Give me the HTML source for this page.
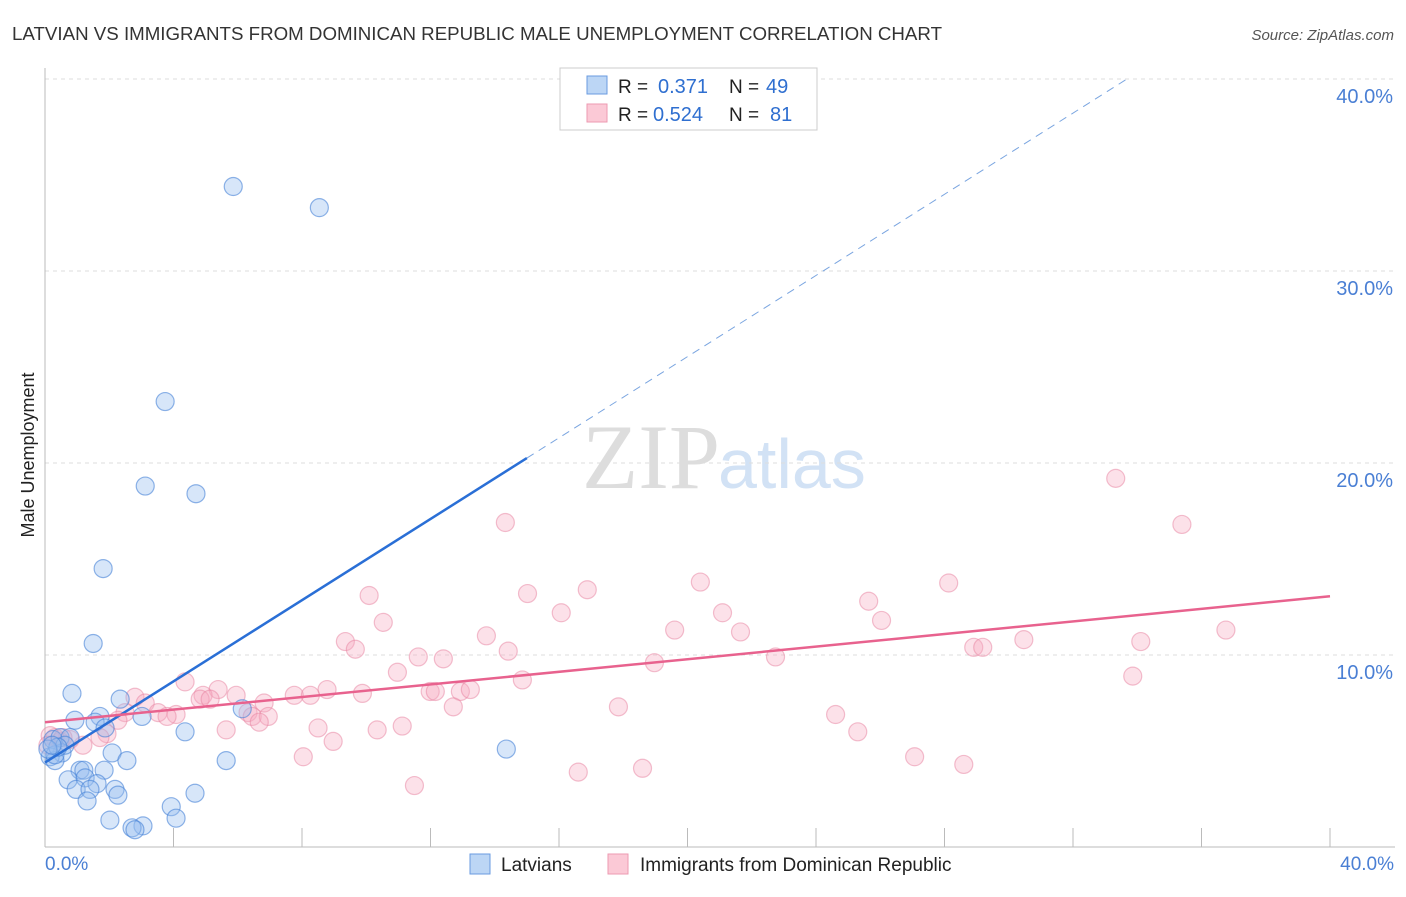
<!DOCTYPE html>
<html><head><meta charset="utf-8"><style>
body{margin:0;background:#fff;font-family:"Liberation Sans",sans-serif}
</style></head><body>
<svg width="1406" height="892" xmlns="http://www.w3.org/2000/svg">
<text x="12" y="40" font-size="18" fill="#333" textLength="930" lengthAdjust="spacingAndGlyphs">LATVIAN VS IMMIGRANTS FROM DOMINICAN REPUBLIC MALE UNEMPLOYMENT CORRELATION CHART</text>
<text x="1394" y="40" font-size="15" fill="#555" font-style="italic" text-anchor="end">Source: ZipAtlas.com</text>
<text x="720" y="488" font-size="92" fill="#ddd" text-anchor="end" font-family="Liberation Serif">ZIP</text>
<text x="718" y="488" font-size="70" fill="#d2e2f5">atlas</text>
<g id="grid"></g>
<line x1="45" y1="68" x2="45" y2="847" stroke="#bbb"/>
<line x1="45" y1="847" x2="1395" y2="847" stroke="#bbb"/>
<text x="34" y="455" font-size="18" fill="#222" text-anchor="middle" transform="rotate(-90 34 455)">Male Unemployment</text>
<text x="45" y="870" font-size="19" fill="#4a7fd4">0.0%</text>
<text x="1394" y="870" font-size="19" fill="#4a7fd4" text-anchor="end">40.0%</text>
<g id="pts"></g>
<g id="lines"></g>
<g>
<rect x="560" y="68" width="257" height="62" fill="#fff" stroke="#ccc"/>
<rect x="587" y="76" width="20" height="18" fill="#bcd6f5" stroke="#6a9be0"/>
<text x="618" y="93" font-size="19" fill="#222">R = </text><text x="658" y="93" font-size="20" fill="#2f6fd0">0.371</text>
<text x="729" y="93" font-size="19" fill="#222">N = </text><text x="766" y="93" font-size="20" fill="#2f6fd0">49</text>
<rect x="587" y="104" width="20" height="18" fill="#fbc9d6" stroke="#ec9ab1"/>
<text x="618" y="121" font-size="19" fill="#222">R = </text><text x="653" y="121" font-size="20" fill="#2f6fd0">0.524</text>
<text x="729" y="121" font-size="19" fill="#222">N = </text><text x="770" y="121" font-size="20" fill="#2f6fd0">81</text>
</g>
<g>
<rect x="470" y="854" width="20" height="20" fill="#bcd6f5" stroke="#6a9be0"/>
<text x="501" y="871" font-size="19" fill="#222">Latvians</text></g>
<g>
<rect x="608" y="854" width="20" height="20" fill="#fbc9d6" stroke="#ec9ab1"/>
<text x="640" y="871" font-size="19" fill="#222">Immigrants from Dominican Republic</text></g>
</svg>
<script>
const yTicks=[10,20,30,40];
const xTicks=[0,4,8,12,16,20,24,28,32,36,40];
const blueX=[5.86,8.54,3.74,3.12,4.70,1.81,1.50,0.84,2.34,3.02,0.93,1.71,1.56,1.87,4.36,6.14,0.25,0.47,0.78,2.09,0.53,0.16,0.31,2.55,5.64,14.36,1.84,1.09,1.21,0.72,1.25,1.62,2.18,0.97,1.40,2.27,4.67,1.31,3.93,2.02,4.08,3.05,2.71,2.80,0.31,0.62,0.40,0.09,0.22];
const blueY=[34.4,33.3,23.2,18.8,18.4,14.5,10.6,8.0,7.7,6.8,6.6,6.8,6.5,6.2,6.0,7.2,5.6,5.7,5.7,4.9,4.9,4.7,4.5,4.5,4.5,5.1,4.0,4.0,4.0,3.5,3.6,3.3,3.0,3.0,3.0,2.7,2.8,2.4,2.1,1.4,1.5,1.1,1.0,0.9,4.8,5.3,5.2,5.1,5.3];
const pinkX=[33.33,35.39,14.33,20.40,28.13,16.88,15.02,10.09,16.07,21.09,25.64,26.04,10.53,19.60,21.65,13.74,36.76,30.47,34.11,9.35,9.66,28.91,29.19,14.42,11.62,12.40,22.74,18.97,10.97,33.86,14.86,4.36,5.39,8.78,9.88,7.76,8.26,5.95,4.92,11.99,12.15,12.93,13.24,4.83,5.14,6.82,2.80,3.12,3.52,4.08,3.80,6.32,6.45,6.95,6.67,5.64,8.50,10.34,11.12,17.85,12.71,24.61,25.30,2.49,2.27,1.93,1.71,1.18,0.78,0.47,8.97,8.04,27.07,28.60,16.60,18.60,11.50,0.31,0.16,0.09,0.56];
const pinkY=[19.2,16.8,16.9,13.8,13.75,13.4,13.2,13.1,12.2,12.2,12.8,11.8,11.7,11.3,11.2,11.0,11.3,10.8,10.7,10.7,10.3,10.4,10.4,10.2,9.9,9.8,9.9,9.6,9.1,8.9,8.7,8.6,8.2,8.2,8.0,7.9,7.9,7.9,7.9,8.1,8.1,8.1,8.2,7.7,7.7,7.5,7.8,7.5,7.0,6.9,6.8,7.0,6.8,6.8,6.5,6.1,6.2,6.1,6.3,7.3,7.3,6.9,6.0,7.0,6.6,5.9,5.7,5.3,5.6,5.5,5.5,4.7,4.7,4.3,3.9,4.1,3.2,5.7,5.8,5.3,5.7];
const blueFit=[4.4,1.057];
const pinkFit=[6.5,0.164];
const NS='http://www.w3.org/2000/svg';
const sx=v=>45+v*32.125, sy=v=>847-v*19.2;
function mk(t,a,p){const e=document.createElementNS(NS,t);for(const k in a)e.setAttribute(k,a[k]);p.appendChild(e);return e;}
const grid=document.getElementById('grid');
yTicks.forEach(v=>{
 const l=mk('line',{x1:45,x2:1395,y1:sy(v),y2:sy(v),stroke:'#ddd','stroke-dasharray':'4,4'},grid);
 
 
 const t=mk('text',{x:1393,y:sy(v)+24,'font-size':20,fill:'#4a7fd4','text-anchor':'end'},grid);
 t.textContent=v.toFixed(1)+'%';
 
 
});
xTicks.forEach(v=>{
 const l=mk('line',{x1:sx(v),x2:sx(v),y1:828,y2:847,stroke:'#bbb'},grid);
 
 
});
const pts=document.getElementById('pts');
pinkX.forEach((x,i)=>{
 const c=mk('circle',{cx:sx(x),cy:sy(pinkY[i]),r:9,fill:'rgba(247,170,192,0.35)',stroke:'rgba(232,130,160,0.5)','stroke-width':1.2},pts);
 
 
});
blueX.forEach((x,i)=>{
 const c=mk('circle',{cx:sx(x),cy:sy(blueY[i]),r:9,fill:'rgba(150,190,240,0.38)',stroke:'rgba(70,130,215,0.6)','stroke-width':1.2},pts);
 
 
});
const lines=document.getElementById('lines');
const bEnd=15, bMax=(40-blueFit[0])/blueFit[1];
let l1=mk('line',{x1:sx(0),y1:sy(blueFit[0]),x2:sx(bEnd),y2:sy(blueFit[0]+blueFit[1]*bEnd),stroke:'#2a6fd6','stroke-width':2.5},lines);


let l2=mk('line',{x1:sx(bEnd),y1:sy(blueFit[0]+blueFit[1]*bEnd),x2:sx(bMax),y2:sy(40),stroke:'#7aa5e0','stroke-width':1,'stroke-dasharray':'8,6'},lines);


let l3=mk('line',{x1:sx(0),y1:sy(pinkFit[0]),x2:sx(40),y2:sy(pinkFit[0]+pinkFit[1]*40),stroke:'#e8628e','stroke-width':2.5},lines);


</script>
</body></html>
